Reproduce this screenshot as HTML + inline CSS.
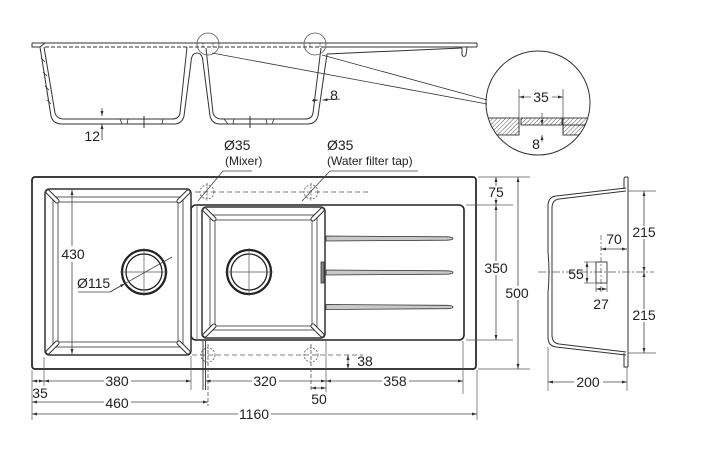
<!DOCTYPE html>
<html><head><meta charset="utf-8"><style>
html,body{margin:0;padding:0;background:#fff}
svg{display:block}
text{font-family:"Liberation Sans",Arial,sans-serif;fill:#222;font-size:14px}
</style></head><body>
<svg width="712" height="468" viewBox="0 0 712 468" xmlns="http://www.w3.org/2000/svg">
<defs>
<marker id="a" viewBox="0 0 10 6" refX="10" refY="3" markerWidth="5" markerHeight="3" markerUnits="userSpaceOnUse" orient="auto-start-reverse"><path d="M0,0 L10,3 L0,6 z" fill="#333"/></marker>
<pattern id="h" patternUnits="userSpaceOnUse" width="3" height="3" patternTransform="rotate(45)"><line x1="0" y1="0" x2="0" y2="3" stroke="#444" stroke-width="0.9"/></pattern>
<clipPath id="cc"><circle cx="538" cy="103" r="52"/></clipPath>
</defs>

<!-- ================= SECTION VIEW ================= -->
<g fill="none" stroke="#333" stroke-width="1">
<line x1="32" y1="43" x2="477" y2="43"/>
<path d="M32,43 L32,47 L40,47 L45,43"/>
<line x1="45" y1="47" x2="326" y2="47" stroke-dasharray="4,2" stroke-width="0.9"/>
<line x1="326" y1="47" x2="477" y2="47"/>
<path d="M477,43 L477,47"/>
<!-- outer / underside -->
<path d="M40,47 L51,116 Q53,124 62,124 L174,124 Q182,124 184,116 L191.5,58 Q193,53 197,53 Q201,53 202.5,58 L210,116 Q212,124 220,124 L307,124 Q316,124 318,116 L327,54"/>
<!-- interiors -->
<path d="M44,47 L55,113 Q57,119 64,119 L172,119 Q179,119 180,113 L187,47"/>
<path d="M206,48 L213,113 Q215,119 222,119 L305,119 Q312,119 313,113 L321,48"/>
<!-- left wall ticks -->
<path d="M41,58 L45,62 M43,72 L47,76 M45,86 L49,90 M47,100 L51,104" stroke-width="0.8"/>
<!-- drain bumps -->
<path d="M116,119 L120,119 L122,124 M127,124 L128,119 L160,119 M162,124 L163,119 L168,119" stroke-width="0.8"/>
<line x1="144" y1="116" x2="144" y2="128"/>
<path d="M224,119 L228,124 M233,124 L234,119 M266,119 L267,124 M272,124 L274,119" stroke-width="0.8"/>
<line x1="250" y1="116" x2="250" y2="128"/>
<!-- drainer underside -->
<path d="M327,54 L462,48"/>
<path d="M462,48 L462,55 Q464,58 466,55 L467,47"/>
<!-- small detail circles -->
<circle cx="208" cy="44" r="11" stroke="#555" stroke-width="0.8"/>
<circle cx="315" cy="44" r="11" stroke="#555" stroke-width="0.8"/>
<path d="M203,43 L203,47 M213,43 L213,47 M310,43 L310,47 M320,43 L320,47" stroke-dasharray="1.5,1" stroke-width="0.8"/>
<!-- leader lines to inset -->
<line x1="212" y1="53" x2="487" y2="104" stroke-width="0.8"/>
<line x1="322" y1="55" x2="487" y2="100" stroke-width="0.8"/>
</g>
<!-- 12 dim -->
<g stroke="#333" stroke-width="0.8" fill="none">
<line x1="102" y1="108" x2="102" y2="116" marker-end="url(#a)"/>
<line x1="102" y1="140" x2="102" y2="124" marker-end="url(#a)"/>
<line x1="312" y1="100.5" x2="318" y2="100" marker-end="url(#a)"/>
<line x1="340" y1="99" x2="322.5" y2="100" marker-end="url(#a)"/>
</g>
<text x="100" y="141" text-anchor="end">12</text>
<text x="334" y="100" text-anchor="middle">8</text>

<!-- inset circle -->
<g clip-path="url(#cc)" stroke="#333" stroke-width="0.9">
<rect x="480" y="118" width="39" height="17" fill="url(#h)"/>
<rect x="521" y="118" width="41" height="7" fill="url(#h)"/>
<rect x="563" y="118" width="40" height="17" fill="url(#h)"/>
<line x1="563" y1="125" x2="600" y2="125"/>
<line x1="519" y1="118" x2="519" y2="135"/>
<line x1="563" y1="118" x2="563" y2="135"/>
</g>
<circle cx="538" cy="103" r="52" fill="none" stroke="#333" stroke-width="1"/>
<g stroke="#444" stroke-width="0.7" fill="none">
<line x1="519" y1="89" x2="519" y2="118"/>
<line x1="563" y1="89" x2="563" y2="118"/>
<line x1="531" y1="97" x2="519" y2="97" marker-end="url(#a)"/>
<line x1="552" y1="97" x2="563" y2="97" marker-end="url(#a)"/>
<line x1="542" y1="113" x2="542" y2="125" marker-end="url(#a)"/>
<line x1="542" y1="142" x2="542" y2="135" marker-end="url(#a)"/>
</g>
<text x="541" y="102" text-anchor="middle">35</text>
<text x="536" y="149" text-anchor="middle">8</text>

<!-- ================= PLAN VIEW ================= -->
<rect x="32" y="177" width="444" height="192" rx="3" fill="none" stroke="#222" stroke-width="1.7"/>
<!-- right section frame -->
<rect x="191" y="205" width="273" height="135" rx="5" fill="none" stroke="#222" stroke-width="1.6"/>
<line x1="197" y1="206" x2="197" y2="339" stroke="#555" stroke-width="0.7"/>

<!-- left bowl -->
<g fill="none" stroke="#333">
<rect x="45" y="189" width="146" height="166" rx="4" stroke-width="1.5" fill="#fff"/>
<rect x="53" y="197" width="130" height="150" stroke-width="0.8"/>
<rect x="58" y="202" width="120" height="140" stroke-width="0.8"/>
</g>
<g stroke-linecap="round">
<g stroke="#333" stroke-width="5">
<line x1="48" y1="192" x2="57" y2="201"/><line x1="188" y1="192" x2="179" y2="201"/>
<line x1="48" y1="352" x2="57" y2="343"/><line x1="188" y1="352" x2="179" y2="343"/>
</g>
<g stroke="#fff" stroke-width="3">
<line x1="48" y1="192" x2="57" y2="201"/><line x1="188" y1="192" x2="179" y2="201"/>
<line x1="48" y1="352" x2="57" y2="343"/><line x1="188" y1="352" x2="179" y2="343"/>
</g>
</g>

<!-- right bowl -->
<g fill="none" stroke="#333">
<rect x="202" y="207" width="123" height="131" rx="4" stroke-width="1.5"/>
<rect x="210" y="215" width="107" height="115" stroke-width="0.8"/>
<rect x="215" y="220" width="97" height="106" stroke-width="0.8"/>
</g>
<g stroke-linecap="round">
<g stroke="#333" stroke-width="5">
<line x1="205" y1="210" x2="214" y2="219"/><line x1="322" y1="210" x2="313" y2="219"/>
<line x1="205" y1="335" x2="214" y2="326"/><line x1="322" y1="335" x2="313" y2="326"/>
</g>
<g stroke="#fff" stroke-width="3">
<line x1="205" y1="210" x2="214" y2="219"/><line x1="322" y1="210" x2="313" y2="219"/>
<line x1="205" y1="335" x2="214" y2="326"/><line x1="322" y1="335" x2="313" y2="326"/>
</g>
</g>

<!-- drainer ribs -->
<g fill="#c8c8c8" stroke="#333" stroke-width="0.8">
<path d="M326,236 L447,236.8 Q453,237 453,238.5 Q453,240 447,240.2 L326,241 Z"/>
<path d="M326,270 L447,270.8 Q453,271 453,272.5 Q453,274 447,274.2 L326,275 Z"/>
<path d="M326,304.5 L447,305.3 Q453,305.5 453,307 Q453,308.5 447,308.7 L326,309.5 Z"/>
</g>
<rect x="321" y="262" width="3" height="21" fill="#888" stroke="#333" stroke-width="0.8"/>

<!-- drains -->
<g fill="none" stroke="#222">
<circle cx="144" cy="272" r="22" stroke-width="2.2"/>
<circle cx="144" cy="272" r="18" stroke-width="1.3"/>
<circle cx="249" cy="272" r="22" stroke-width="2.2"/>
<circle cx="249" cy="272" r="18" stroke-width="1.3"/>
</g>
<g stroke="#555" stroke-width="0.7">
<line x1="144" y1="248" x2="144" y2="296"/><line x1="120" y1="272" x2="168" y2="272"/>
<line x1="249" y1="248" x2="249" y2="296"/><line x1="225" y1="272" x2="273" y2="272"/>
</g>

<!-- tap holes -->
<g fill="none" stroke="#555" stroke-width="0.8">
<line x1="195" y1="192" x2="368" y2="192" stroke-dasharray="5,3"/>
<line x1="192" y1="355" x2="363" y2="355" stroke-dasharray="5,3"/>
<g stroke-dasharray="2,1.5">
<circle cx="207" cy="192" r="7"/><circle cx="311" cy="192" r="7"/>
<circle cx="208" cy="355" r="7"/><circle cx="311" cy="355" r="7"/>
<line x1="207" y1="183" x2="207" y2="201"/><line x1="311" y1="183" x2="311" y2="201"/>
</g>
<line x1="208" y1="344" x2="208" y2="406" stroke-dasharray="4,2"/>
<line x1="311" y1="344" x2="311" y2="392" stroke-dasharray="4,2"/>
</g>
<!-- leaders -->
<g fill="none" stroke="#444" stroke-width="0.8">
<path d="M252,171 L223,171 L198,201"/>
<path d="M418,171 L330,171 L302,201"/>
<path d="M78,292 L110,292 L172,257"/>
</g>
<line x1="110" y1="292" x2="125" y2="283.6" stroke="#444" stroke-width="0.8" marker-end="url(#a)"/>
<text x="224" y="150">Ø35</text>
<text x="225" y="165" style="font-size:12px">(Mixer)</text>
<text x="327" y="150">Ø35</text>
<text x="327" y="165" style="font-size:12px">(Water filter tap)</text>
<text x="77" y="288">Ø115</text>

<!-- 430 dim -->
<g stroke="#444" stroke-width="0.8" fill="none">
<line x1="72" y1="246" x2="72" y2="190" marker-end="url(#a)"/>
<line x1="72" y1="262" x2="72" y2="354" marker-end="url(#a)"/>
</g>
<text x="73" y="259" text-anchor="middle">430</text>

<!-- right dims -->
<g stroke="#555" stroke-width="0.7" fill="none">
<line x1="478" y1="177" x2="530" y2="177"/>
<line x1="478" y1="369" x2="530" y2="369"/>
<line x1="466" y1="205" x2="513" y2="205"/>
<line x1="466" y1="340" x2="513" y2="340"/>
</g>
<g stroke="#444" stroke-width="0.8" fill="none">
<line x1="496" y1="186" x2="496" y2="177" marker-end="url(#a)"/>
<line x1="496" y1="198" x2="496" y2="205" marker-end="url(#a)"/>
<line x1="496" y1="261" x2="496" y2="205" marker-end="url(#a)"/>
<line x1="496" y1="275" x2="496" y2="340" marker-end="url(#a)"/>
<line x1="518" y1="286" x2="518" y2="177" marker-end="url(#a)"/>
<line x1="518" y1="300" x2="518" y2="369" marker-end="url(#a)"/>
<line x1="348" y1="362" x2="348" y2="355" marker-end="url(#a)"/>
<line x1="348" y1="362" x2="348" y2="369" marker-end="url(#a)"/>
</g>
<text x="496" y="197" text-anchor="middle">75</text>
<text x="496" y="273" text-anchor="middle">350</text>
<text x="517" y="298" text-anchor="middle">500</text>
<text x="365" y="366" text-anchor="middle">38</text>

<!-- bottom dims -->
<g stroke="#555" stroke-width="0.7" fill="none">
<line x1="32" y1="370" x2="32" y2="420"/>
<line x1="44" y1="357" x2="44" y2="386"/>
<line x1="191" y1="356" x2="191" y2="390"/>
<line x1="203" y1="341" x2="203" y2="390" stroke="#333" stroke-width="0.9"/>
<line x1="205.5" y1="341" x2="205.5" y2="390" stroke="#333" stroke-width="0.9"/>
<line x1="326" y1="341" x2="326" y2="392"/>
<line x1="463" y1="341" x2="463" y2="394"/>
<line x1="477" y1="370" x2="477" y2="420"/>
</g>
<g stroke="#444" stroke-width="0.8" fill="none">
<line x1="38" y1="381" x2="32" y2="381" marker-end="url(#a)"/>
<line x1="38" y1="381" x2="44" y2="381" marker-end="url(#a)"/>
<line x1="104" y1="381" x2="44" y2="381" marker-end="url(#a)"/>
<line x1="131" y1="381" x2="191" y2="381" marker-end="url(#a)"/>
<line x1="252" y1="381" x2="205.5" y2="381" marker-end="url(#a)"/>
<line x1="279" y1="381" x2="326" y2="381" marker-end="url(#a)"/>
<line x1="382" y1="381" x2="326" y2="381" marker-end="url(#a)"/>
<line x1="409" y1="381" x2="463" y2="381" marker-end="url(#a)"/>
<line x1="318" y1="388" x2="311" y2="388" marker-end="url(#a)"/>
<line x1="318" y1="388" x2="326" y2="388" marker-end="url(#a)"/>
<line x1="104" y1="402" x2="32" y2="402" marker-end="url(#a)"/>
<line x1="131" y1="402" x2="208" y2="402" marker-end="url(#a)"/>
<line x1="238" y1="414" x2="32" y2="414" marker-end="url(#a)"/>
<line x1="271" y1="414" x2="477" y2="414" marker-end="url(#a)"/>
</g>
<text x="117" y="386" text-anchor="middle">380</text>
<text x="265" y="386" text-anchor="middle">320</text>
<text x="395" y="386" text-anchor="middle">358</text>
<text x="40" y="398" text-anchor="middle">35</text>
<text x="319" y="404" text-anchor="middle">50</text>
<text x="117" y="408" text-anchor="middle">460</text>
<text x="254" y="419" text-anchor="middle">1160</text>

<!-- ================= SIDE VIEW ================= -->
<g fill="none" stroke="#333" stroke-width="1">
<line x1="628" y1="177" x2="628" y2="367"/>
<path d="M624,189 L624,179 Q624,177 626,177 L628,177"/>
<path d="M624,353 L624,367 L628,367"/>
<path d="M626,188 L556,196 Q548,197 548,206 L548,252 Q550,272 548,293 L548,337 Q548,346 556,347 L626,355"/>
<path d="M626,191 L559,199 Q552,200 552,208 L552,335 Q552,343 559,344 L626,352"/>
<rect x="596" y="262" width="11" height="21" stroke-width="0.9"/>
</g>
<g stroke="#555" stroke-width="0.7" fill="none">
<line x1="628" y1="191" x2="656" y2="191"/>
<line x1="628" y1="353" x2="656" y2="353"/>
<line x1="538" y1="272" x2="654" y2="272" stroke-dasharray="8,2,2,2"/>
<line x1="601" y1="235" x2="601" y2="292" stroke-dasharray="5,2,2,2"/>
<line x1="584" y1="262" x2="596" y2="262"/>
<line x1="584" y1="283" x2="596" y2="283"/>
<line x1="596" y1="283" x2="596" y2="292"/>
<line x1="607" y1="283" x2="607" y2="292"/>
<line x1="548" y1="347" x2="548" y2="391"/>
<line x1="627" y1="367" x2="627" y2="391"/>
</g>
<g stroke="#444" stroke-width="0.8" fill="none">
<line x1="644" y1="226" x2="644" y2="191" marker-end="url(#a)"/>
<line x1="644" y1="239" x2="644" y2="272" marker-end="url(#a)"/>
<line x1="644" y1="309" x2="644" y2="272" marker-end="url(#a)"/>
<line x1="644" y1="322" x2="644" y2="353" marker-end="url(#a)"/>
<line x1="614" y1="249" x2="601" y2="249" marker-end="url(#a)"/>
<line x1="614" y1="249" x2="627" y2="249" marker-end="url(#a)"/>
<line x1="587" y1="272" x2="587" y2="262" marker-end="url(#a)"/>
<line x1="587" y1="272" x2="587" y2="283" marker-end="url(#a)"/>
<line x1="601" y1="289" x2="596" y2="289" marker-end="url(#a)"/>
<line x1="601" y1="289" x2="607" y2="289" marker-end="url(#a)"/>
<line x1="574" y1="382" x2="548" y2="382" marker-end="url(#a)"/>
<line x1="603" y1="382" x2="627" y2="382" marker-end="url(#a)"/>
</g>
<text x="644" y="237" text-anchor="middle">215</text>
<text x="644" y="320" text-anchor="middle">215</text>
<text x="614" y="244" text-anchor="middle">70</text>
<text x="576" y="279" text-anchor="middle">55</text>
<text x="601" y="309" text-anchor="middle">27</text>
<text x="588" y="387" text-anchor="middle">200</text>
</svg>
</body></html>
